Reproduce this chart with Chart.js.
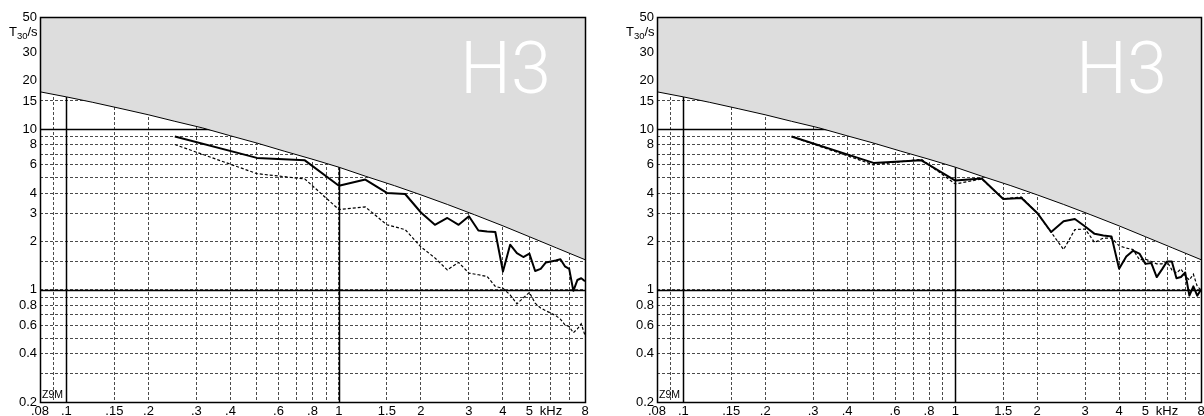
<!DOCTYPE html>
<html>
<head>
<meta charset="utf-8">
<script src="https://cdn.jsdelivr.net/npm/chart.js@4.4.1/dist/chart.umd.min.js"></script>
<style>
  html, body { margin: 0; padding: 0; background: #fff; }
  body { width: 1204px; height: 416px; position: relative; overflow: hidden; }
  #leftChart { position: absolute; left: 0; top: 0; }
  #rightChart { position: absolute; left: 617px; top: 0; }
</style>
</head>
<body>
<canvas id="leftChart" width="602" height="416"></canvas>
<canvas id="rightChart" width="587" height="416"></canvas>
<script>
// --- data (kHz / seconds) ---
const freqs = [0.25, 0.5, 0.75, 1, 1.25, 1.5, 1.75, 2, 2.25, 2.5, 2.75, 3, 3.25, 3.5, 3.75, 4,
               4.25, 4.5, 4.75, 5, 5.25, 5.5, 5.75, 6, 6.25, 6.5, 6.75, 7, 7.25, 7.5, 7.75, 8];

const leftSolid  = [9.0, 6.63, 6.4, 4.45, 4.86, 4.01, 3.95, 3.03, 2.54, 2.8, 2.54, 2.87, 2.34, 2.31, 2.29, 1.30,
                    1.91, 1.69, 1.60, 1.68, 1.31, 1.35, 1.48, 1.50, 1.52, 1.55, 1.40, 1.35, 0.985, 1.15, 1.18, 1.13];
const leftDashed = [8.03, 5.29, 4.9, 3.16, 3.28, 2.54, 2.37, 1.85, 1.58, 1.33, 1.48, 1.27, 1.24, 1.21, 1.05, 1.02,
                    0.93, 0.818, 0.89, 0.962, 0.826, 0.77, 0.74, 0.715, 0.69, 0.656, 0.605, 0.59, 0.54, 0.57, 0.614, 0.52];

const rightSolid  = [9.0, 6.17, 6.4, 4.79, 4.93, 3.68, 3.73, 3.01, 2.29, 2.67, 2.76, 2.48, 2.23, 2.18, 2.15, 1.35,
                     1.61, 1.75, 1.68, 1.45, 1.47, 1.20, 1.34, 1.50, 1.50, 1.18, 1.20, 1.28, 0.92, 1.05, 0.92, 1.0];
const rightDashed = [9.0, 6.0, 6.5, 4.56, 4.9, 3.68, 3.78, 3.0, 2.28, 1.78, 2.37, 2.39, 1.97, 2.1, 2.1, 1.88,
                     1.82, 1.78, 1.54, 1.55, 1.5, 1.45, 1.45, 1.5, 1.33, 1.27, 1.35, 1.22, 1.15, 1.25, 1.05, 1.0];

// upper limit curve (grey area above it)
const limitFreqs = [0.08, 0.1, 0.125, 0.16, 0.2, 0.25, 0.315, 0.4, 0.5, 0.63, 0.8, 1, 1.25, 1.6, 2, 2.5, 3.15, 4, 5, 6.3, 8];
const limitT     = [17.1, 15.9, 14.7, 13.4, 12.3, 11.2, 10.2, 9.1, 8.2, 7.3, 6.5, 5.8, 5.1, 4.45, 3.9, 3.4, 2.93, 2.5, 2.14, 1.82, 1.54];

// --- axes ---
const xTicks  = [0.08, 0.09, 0.1, 0.15, 0.2, 0.3, 0.4, 0.5, 0.6, 0.7, 0.8, 0.9, 1, 1.5, 2, 3, 4, 5, 6, 7, 8];
const xLabels = ['.08', '', '.1', '.15', '.2', '.3', '.4', '', '.6', '', '.8', '', '1', '1.5', '2', '3', '4', '5', 'kHz', '', '8'];
const yTicks  = [0.2, 0.3, 0.4, 0.5, 0.6, 0.7, 0.8, 0.9, 1, 1.5, 2, 3, 4, 5, 6, 7, 8, 9, 10, 15, 20, 30, 50];
const yLabels = ['0.2', '', '0.4', '', '0.6', '', '0.8', '', '1', '', '2', '3', '4', '', '6', '', '8', '', '10', '15', '20', '30', '50'];
const xSolid = [0.1, 1];
const ySolid = [1, 10];
const panelTag = 'H3';

Chart.defaults.font.family = "'Liberation Sans', Arial, Helvetica, sans-serif";
Chart.defaults.font.size = 13;
Chart.defaults.color = '#000';

const toPoints = (xs, ys) => xs.map((x, i) => ({ x: x, y: ys[i] }));

// --- extra drawing: solid reference grid lines, frame, labels ---
const decorPlugin = {
    id: 'decor',
    beforeDatasetsDraw(chart) {
        const { ctx, chartArea: a, scales: { x, y } } = chart;
        ctx.save();
        ctx.strokeStyle = '#000';
        ctx.lineWidth = 1.5;
        ctx.beginPath();
        xSolid.forEach(v => {
            const px = Math.round(x.getPixelForValue(v)) + 0.5;
            ctx.moveTo(px, a.top); ctx.lineTo(px, a.bottom);
        });
        ySolid.forEach(v => {
            const py = Math.round(y.getPixelForValue(v)) + 0.5;
            ctx.moveTo(a.left, py); ctx.lineTo(a.right, py);
        });
        ctx.stroke();
        ctx.restore();
    },
    afterDatasetsDraw(chart) {
        const { ctx, chartArea: a } = chart;
        ctx.save();
        // big panel tag
        ctx.fillStyle = '#fff';
        ctx.font = "300 72px Roboto, 'Liberation Sans', sans-serif";
        ctx.textAlign = 'right';
        ctx.textBaseline = 'alphabetic';
        ctx.fillText(panelTag, a.right - 34, 93);
        // frame
        ctx.strokeStyle = '#000';
        ctx.lineWidth = 1.5;
        ctx.strokeRect(Math.round(a.left) + 0.5, Math.round(a.top) + 0.5,
                       Math.round(a.right - a.left), Math.round(a.bottom - a.top));
        // axis title T30/s
        ctx.fillStyle = '#000';
        ctx.textAlign = 'left';
        ctx.font = "13px 'Liberation Sans', Arial, sans-serif";
        let tx = 9;
        ctx.fillText('T', tx, 36);
        tx += ctx.measureText('T').width;
        ctx.font = "9.5px 'Liberation Sans', Arial, sans-serif";
        ctx.fillText('30', tx, 39);
        tx += ctx.measureText('30').width;
        ctx.font = "13px 'Liberation Sans', Arial, sans-serif";
        ctx.fillText('/s', tx, 36);
        // small mark in the corner
        ctx.font = "10.5px 'Liberation Sans', Arial, sans-serif";
        ctx.fillText('Z9M', a.left + 2, a.bottom - 4);
        ctx.restore();
    }
};

function createPanel(canvasId, solid, dashed, rightPad) {
    const ctx = document.getElementById(canvasId).getContext('2d');
    return new Chart(ctx, {
        type: 'line',
        data: {
            datasets: [
                { data: toPoints(freqs, solid), borderColor: '#000', borderWidth: 2,
                  pointRadius: 0, borderJoinStyle: 'round', fill: false, order: 0 },
                { data: toPoints(freqs, dashed), borderColor: '#000', borderWidth: 1.2, borderDash: [3, 2],
                  pointRadius: 0, fill: false, order: 1 },
                { data: toPoints(limitFreqs, limitT), borderColor: '#000', borderWidth: 1,
                  backgroundColor: '#dddddd', fill: 'end', pointRadius: 0, order: 2 }
            ]
        },
        options: {
            responsive: false,
            animation: false,
            layout: { padding: { top: 17, right: rightPad, left: 0, bottom: 0 } },
            plugins: { legend: { display: false }, tooltip: { enabled: false } },
            scales: {
                x: {
                    type: 'logarithmic', min: 0.08, max: 8,
                    afterBuildTicks: s => { s.ticks = xTicks.map(v => ({ value: v })); },
                    afterFit: s => { s.height = 14; s.paddingLeft = 0; s.paddingRight = 0; },
                    ticks: { autoSkip: false, maxRotation: 0, padding: 1.5,
                             callback: (v, i) => xLabels[i] },
                    grid: { color: '#4a4a4a', lineWidth: 1, drawTicks: false },
                    border: { display: false, dash: [3, 2] }
                },
                y: {
                    type: 'logarithmic', min: 0.2, max: 50,
                    afterBuildTicks: s => { s.ticks = yTicks.map(v => ({ value: v })); },
                    afterFit: s => { s.width = 40; s.paddingTop = 0; s.paddingBottom = 0; },
                    ticks: { autoSkip: false, padding: 3,
                             callback: (v, i) => yLabels[i] },
                    grid: { color: '#4a4a4a', lineWidth: 1, drawTicks: false },
                    border: { display: false, dash: [3, 2] }
                }
            }
        },
        plugins: [decorPlugin]
    });
}

createPanel('leftChart', leftSolid, leftDashed, 17);
createPanel('rightChart', rightSolid, rightDashed, 3);
</script>
</body>
</html>
